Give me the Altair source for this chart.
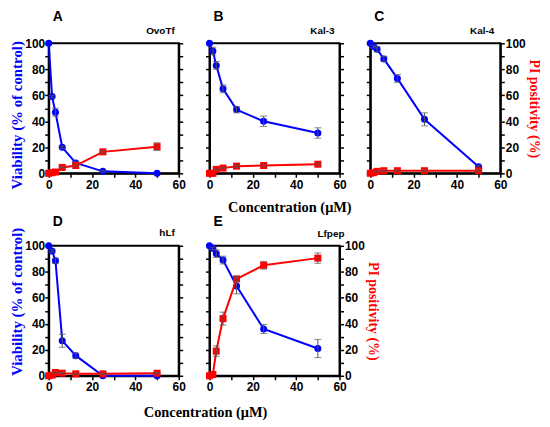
import altair as alt
import pandas as pd

conc = [0, 1.56, 3.125, 6.25, 12.5, 25, 50]

letters = ["A", "B", "C", "D", "E"]
names = ["OvoTf", "Kal-3", "Kal-4", "hLf", "Lfpep"]
x_title = ["Concentration (\u03bcM)"]

via_A = [100, 59, 47, 20, 8, 1.5, 0]
via_A_err = [0, 1, 3, 1, 1, 0.5, 0]
pi_A = [0, 0.5, 1, 4.5, 6, 16.5, 20.5]
pi_A_err = [0, 0, 0, 0.5, 1, 1, 3]

via_B = [100, 94, 83, 65, 49, 40, 31]
via_B_err = [0, 3, 3, 3, 2.5, 4, 4]
pi_B = [0, 0, 3, 4, 5.5, 6, 7]
pi_B_err = [0, 0, 0.5, 0.5, 1, 1, 1]

via_C = [100, 97.5, 95.5, 88, 73, 41.5, 5]
via_C_err = [0, 1, 2, 2, 3, 5, 1]
pi_C = [0, 0.5, 1.5, 2, 2, 2, 2]
pi_C_err = [0, 0, 0.5, 0.5, 0.5, 0.5, 0.5]

via_D = [100, 96, 88.5, 27, 15.5, 0, 0]
via_D_err = [0, 1, 2, 5, 2, 0, 0]
pi_D = [0, 0.5, 2.5, 2, 1.5, 1.5, 2]
pi_D_err = [0, 0, 0.5, 0.5, 0.5, 0.5, 0.5]

via_E = [100, 98, 94, 89, 69, 36, 21]
via_E_err = [0, 1, 3, 3, 6, 3.5, 7]
pi_E = [0, 1, 19, 44, 74.5, 85, 90.5]
pi_E_err = [0, 0, 4, 5, 2, 3, 4]

BLUE = "#0000ff"
RED = "#ff0000"
ERR = "#555555"
W = 131
H = 131
TICKFONT = "Liberation Sans"
TITLEFONT = "Liberation Serif"


def yaxis(orient, labels, title, color, title_size, title_y=None):
    kw = dict(
        orient=orient, values=list(range(0, 101, 10)),
        labelExpr="datum.value % 20 === 0 ? datum.label : ''",
        domainColor="black", domainWidth=2, tickColor="black", tickWidth=1.5,
        tickSize=4, labelFont=TICKFONT, labelFontSize=12, labelFontWeight="bold",
        labelColor="black", labelPadding=1 if orient == "right" else 0,
        grid=False, labelOverlap=False,
    )
    if labels:
        kw.update(title=title, titleColor=color, titleFont=TITLEFONT,
                  titleFontSize=title_size, titleFontWeight="bold",
                  titlePadding=1 if orient == "right" else 0)
        if title_y is not None:
            kw.update(titleY=title_y)
    else:
        kw.update(labels=False, title=None)
    return alt.Axis(**kw)


def xaxis():
    return alt.Axis(
        values=list(range(0, 61, 10)),
        labelExpr="datum.value % 20 === 0 ? datum.label : ''",
        domainColor="black", domainWidth=2, tickColor="black", tickWidth=1.5,
        tickSize=4, labelFont=TICKFONT, labelFontSize=12, labelFontWeight="bold",
        labelColor="black", labelPadding=2, grid=False, labelFlush=False,
        labelOverlap=False, title=None,
    )


def series(df, field, color, shape, axis, xax):
    ysc = alt.Scale(domain=[0, 100], nice=False)
    x = alt.X("conc:Q", scale=alt.Scale(domain=[0, 60], nice=False), axis=xax)
    line = alt.Chart(df).mark_line(color=color, strokeWidth=2).encode(
        x=x, y=alt.Y(f"{field}:Q", scale=ysc, axis=axis))
    pts = alt.Chart(df).mark_point(filled=True, shape=shape, size=50, color=color, opacity=1).encode(
        x=x, y=alt.Y(f"{field}:Q", scale=ysc, axis=axis))
    err = alt.Chart(df).transform_filter(f"datum.{field}_err > 0").mark_errorbar(
        ticks={"size": 7}, color=ERR, thickness=1).encode(
        x=x, y=alt.Y(f"{field}_lo:Q", scale=ysc, axis=axis), y2=f"{field}_hi:Q")
    return alt.layer(line, pts, err)


def panel(i, via, via_e, pi, pi_e, left_labels, right_labels, xtitle_pos,
          letter_y, name_dx, name_y, vtitle_y=None):
    df = pd.DataFrame({
        "conc": conc, "via": via, "via_err": via_e,
        "via_lo": [v - e for v, e in zip(via, via_e)],
        "via_hi": [v + e for v, e in zip(via, via_e)],
        "pi": pi, "pi_err": pi_e,
        "pi_lo": [v - e for v, e in zip(pi, pi_e)],
        "pi_hi": [v + e for v, e in zip(pi, pi_e)],
    })
    xax = xaxis()
    left = yaxis("left", left_labels, "Viability (% of control)", BLUE, 15, vtitle_y)
    right = yaxis("right", right_labels, "PI positivity (%)", RED, 14)
    v = series(df, "via", BLUE, "circle", left, xax)
    p = series(df, "pi", RED, "square", right, xax)
    lab = alt.Chart(pd.DataFrame({"t": [letters[i]]})).mark_text(
        align="left", baseline="alphabetic", font=TICKFONT, fontSize=14,
        fontWeight="bold", color="black").encode(
        text="t:N", x=alt.value(4), y=alt.value(letter_y))
    nm = alt.Chart(pd.DataFrame({"t": [names[i]]})).mark_text(
        align="right", baseline="alphabetic", font=TICKFONT, fontSize=10,
        fontWeight="bold", color="black").encode(
        text="t:N", x=alt.value(W + name_dx), y=alt.value(name_y))
    layers = [v, p, lab, nm]
    if xtitle_pos is not None:
        xt = alt.Chart(pd.DataFrame({"t": x_title})).mark_text(
            align="center", baseline="alphabetic", font=TITLEFONT, fontSize=14.5,
            fontWeight="bold", color="black").encode(
            text="t:N", x=alt.value(xtitle_pos[0]), y=alt.value(H + xtitle_pos[1]))
        layers.append(xt)
    return alt.layer(*layers).resolve_scale(y="independent").properties(
        width=W, height=H)


pA = panel(0, via_A, via_A_err, pi_A, pi_A_err, True, False, None, -22, -4, -9, 72)
pB = panel(1, via_B, via_B_err, pi_B, pi_B_err, False, False, (81, 39), -22, -5, -9)
pC = panel(2, via_C, via_C_err, pi_C, pi_C_err, False, True, None, -22, -6, -9)
pD = panel(3, via_D, via_D_err, pi_D, pi_D_err, True, False, (158, 42), -20, -4, -10, 56)
pE = panel(4, via_E, via_E_err, pi_E, pi_E_err, False, True, None, -20, 5, -9)

chart = alt.concat(pA, pB, pC, pD, pE, columns=3,
                   spacing={"row": 73, "column": 31}, bounds="flush").properties(
    padding=0).configure_view(stroke="black", strokeWidth=2)

chart.save("out.html", embed_options={"renderer": "svg", "actions": False})
